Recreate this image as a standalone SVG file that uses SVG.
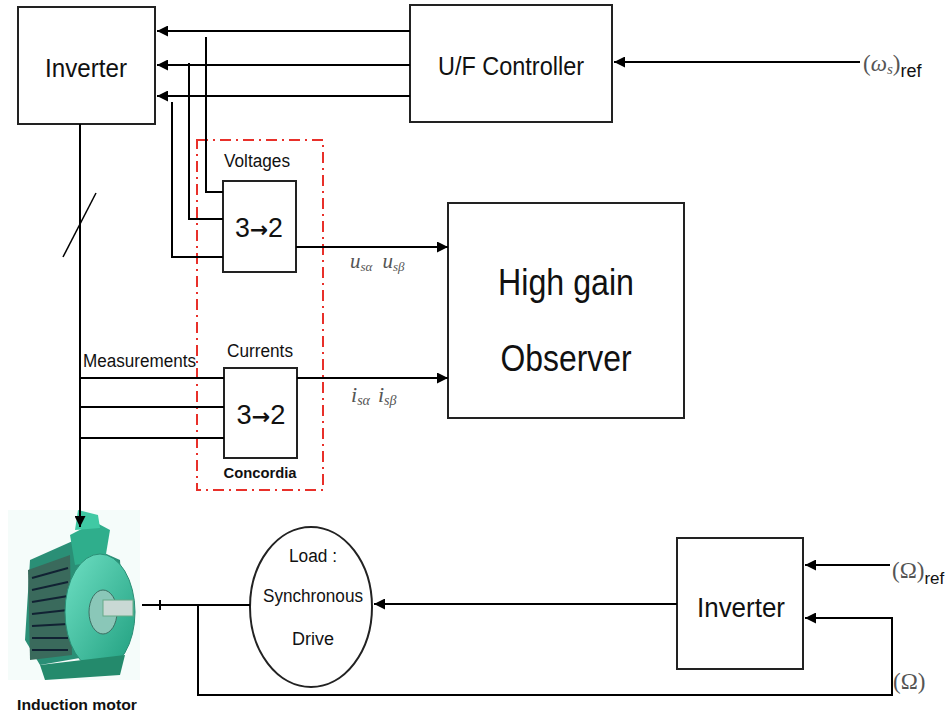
<svg xmlns="http://www.w3.org/2000/svg" width="949" height="717" viewBox="0 0 949 717">
<style>
.box{fill:#fff;stroke:#222;stroke-width:2}
.ln{fill:none;stroke:#000;stroke-width:2}
.t{font-family:"Liberation Sans",Arial,sans-serif;fill:#111}
.m{font-family:"Liberation Serif","Times New Roman",serif;font-style:italic;fill:#555}
.mr{font-family:"Liberation Serif","Times New Roman",serif;fill:#555}
.arw{font-family:"DejaVu Sans",sans-serif;font-weight:bold}
</style>
<defs>
<marker id="ah" viewBox="0 0 10 10" refX="10" refY="5" markerWidth="5.5" markerHeight="5.5" orient="auto" markerUnits="strokeWidth">
<path d="M0,0 L10,5 L0,10 z" fill="#000"/>
</marker>
<linearGradient id="g1" x1="0" y1="0" x2="1" y2="1">
<stop offset="0" stop-color="#6fe0c4"/><stop offset="1" stop-color="#1f9e7e"/>
</linearGradient>
</defs>
<rect width="949" height="717" fill="#fff"/>

<g id="inverter1">
<rect class="box" x="18" y="7" width="137" height="117"/>
<text class="t" x="86" y="77" font-size="26" text-anchor="middle" textLength="82" lengthAdjust="spacingAndGlyphs">Inverter</text>
</g>
<g id="uf_controller">
<rect class="box" x="410" y="5" width="202" height="117"/>
<text class="t" x="511" y="75" font-size="26" text-anchor="middle" textLength="146" lengthAdjust="spacingAndGlyphs">U/F Controller</text>
</g>
<g id="observer">
<rect class="box" x="448" y="203" width="236" height="215"/>
<text class="t" x="566" y="295" font-size="37" text-anchor="middle" textLength="136" lengthAdjust="spacingAndGlyphs">High gain</text>
<text class="t" x="566" y="371" font-size="37" text-anchor="middle" textLength="131" lengthAdjust="spacingAndGlyphs">Observer</text>
</g>
<g id="concordia">
<rect x="197" y="140" width="126" height="350" fill="none" stroke="#e8302a" stroke-width="2" stroke-dasharray="11,5,2,5"/>
<text class="t" x="260" y="478" font-size="15" font-weight="bold" text-anchor="middle" textLength="73" lengthAdjust="spacingAndGlyphs">Concordia</text>
</g>
<g id="voltages">
<text class="t" x="257" y="167" font-size="18" text-anchor="middle" textLength="66" lengthAdjust="spacingAndGlyphs">Voltages</text>
<rect class="box" x="223" y="181" width="73" height="91"/>
<text class="t" x="259" y="237" font-size="27" text-anchor="middle" textLength="48" lengthAdjust="spacingAndGlyphs">3<tspan class="arw" font-size="22">→</tspan>2</text>
</g>
<g id="currents">
<text class="t" x="260" y="357" font-size="18" text-anchor="middle" textLength="66" lengthAdjust="spacingAndGlyphs">Currents</text>
<rect class="box" x="224" y="368" width="73" height="90"/>
<text class="t" x="261" y="424" font-size="27" text-anchor="middle" textLength="49" lengthAdjust="spacingAndGlyphs">3<tspan class="arw" font-size="22">→</tspan>2</text>
</g>
<g id="load">
<ellipse class="box" cx="311" cy="607" rx="61" ry="80"/>
<text class="t" x="313" y="562" font-size="18" text-anchor="middle" textLength="48" lengthAdjust="spacingAndGlyphs">Load :</text>
<text class="t" x="313" y="602" font-size="18" text-anchor="middle" textLength="100" lengthAdjust="spacingAndGlyphs">Synchronous</text>
<text class="t" x="313" y="645" font-size="18" text-anchor="middle" textLength="42" lengthAdjust="spacingAndGlyphs">Drive</text>
</g>
<g id="inverter2">
<rect class="box" x="677" y="538" width="126" height="131"/>
<text class="t" x="741" y="617" font-size="27" text-anchor="middle" textLength="88" lengthAdjust="spacingAndGlyphs">Inverter</text>
</g>
<g id="motor">
<rect x="8" y="510" width="132" height="170" fill="#eefaf6" opacity="0.6"/>
<path d="M30,560 L75,540 L120,560 L125,650 L40,665 L25,640 Z" fill="#2a8f76"/>
<path d="M28,570 L70,555 L72,655 L30,660 Z" fill="#3a6a5c"/>
<g stroke="#123" stroke-width="2">
<line x1="32" y1="578" x2="68" y2="568"/><line x1="32" y1="590" x2="68" y2="582"/>
<line x1="32" y1="602" x2="68" y2="596"/><line x1="32" y1="614" x2="68" y2="610"/>
<line x1="32" y1="626" x2="68" y2="624"/><line x1="32" y1="638" x2="68" y2="638"/>
<line x1="32" y1="650" x2="68" y2="650"/>
</g>
<path d="M70,535 L95,522 L110,530 L105,560 L75,565 Z" fill="#2fae8c"/>
<path d="M78,510 L98,515 L100,528 L75,530 Z" fill="#40c9a4"/>
<ellipse cx="100" cy="612" rx="35" ry="58" fill="url(#g1)" stroke="#2a8f76"/>
<ellipse cx="103" cy="612" rx="14" ry="22" fill="#8ac7b8" stroke="#3d6f63"/>
<rect x="103" y="600" width="30" height="16" fill="#c9d9d4" stroke="#6a8"/>
<path d="M40,665 L125,655 L120,675 L45,680 Z" fill="#248a6c"/>
</g>
<text class="t" x="77" y="710" font-size="15" font-weight="bold" text-anchor="middle" textLength="120" lengthAdjust="spacingAndGlyphs">Induction motor</text>

<g id="connectors">
<path class="ln" d="M410,31 H157" marker-end="url(#ah)"/>
<path class="ln" d="M410,65 H157" marker-end="url(#ah)"/>
<path class="ln" d="M410,96 H157" marker-end="url(#ah)"/>
<path class="ln" d="M860,62 H614" marker-end="url(#ah)"/>
<path class="ln" d="M206,37 V192 H223"/>
<path class="ln" d="M189,63 V219 H223"/>
<path class="ln" d="M172,102 V257 H223"/>
<path class="ln" d="M296,247 H448" marker-end="url(#ah)"/>
<path class="ln" d="M297,378 H448" marker-end="url(#ah)"/>
<path class="ln" d="M80,124 V527" marker-end="url(#ah)"/>
<path class="ln" d="M80,378 H224"/>
<path class="ln" d="M80,407 H224"/>
<path class="ln" d="M80,438 H224"/>
<line x1="63" y1="257" x2="96" y2="193" stroke="#000" stroke-width="1.5"/>
<path class="ln" d="M142,605 H250"/>
<path class="ln" d="M160,600 V610" stroke-width="1.5"/>
<path class="ln" d="M677,604 H374" marker-end="url(#ah)"/>
<path class="ln" d="M198,605 V695 H892 V618 H805" marker-end="url(#ah)"/>
<path class="ln" d="M890,565 H805" marker-end="url(#ah)"/>
</g>

<g id="labels">
<text class="t" x="83" y="367" font-size="18" textLength="113" lengthAdjust="spacingAndGlyphs">Measurements</text>
<text class="m" x="350" y="268" font-size="21">u<tspan font-size="13" dy="3">sα</tspan><tspan dx="10" dy="-3">u</tspan><tspan font-size="13" dy="3">sβ</tspan></text>
<text class="m" x="351" y="402" font-size="22">i<tspan font-size="14" dy="3">sα</tspan><tspan dx="8" dy="-3">i</tspan><tspan font-size="14" dy="3">sβ</tspan></text>
<text x="863" y="71" font-size="23"><tspan class="mr">(</tspan><tspan class="m">ω</tspan><tspan class="m" font-size="15" dy="3">s</tspan><tspan class="mr" dy="-3">)</tspan><tspan class="t" font-size="18" dy="6">ref</tspan></text>
<text x="892" y="578" font-size="23"><tspan class="mr">(Ω)</tspan><tspan class="t" font-size="17" dy="6">ref</tspan></text>
<text class="mr" x="893" y="689" font-size="23">(Ω)</text>
</g>
</svg>
